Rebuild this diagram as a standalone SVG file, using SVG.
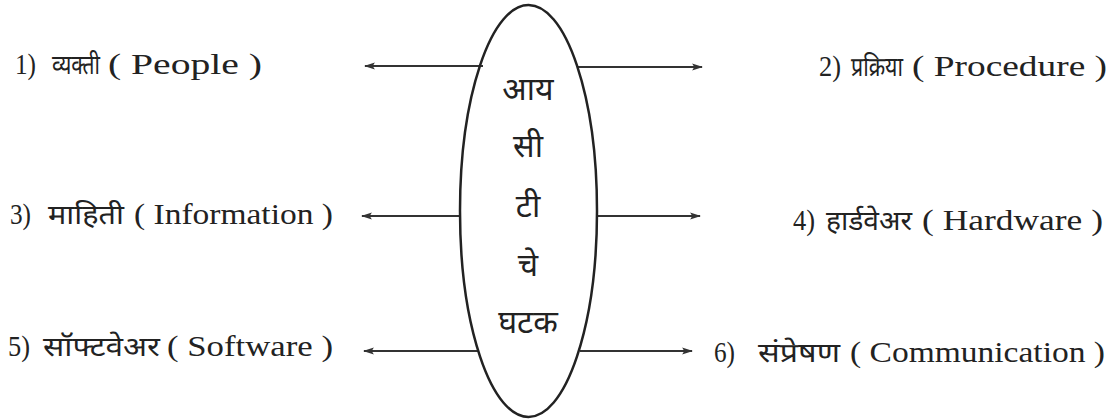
<svg xmlns="http://www.w3.org/2000/svg" width="1118" height="419" viewBox="0 0 1118 419">
<style>
text{font-family:"Liberation Serif","Noto Sans Devanagari","Noto Sans",serif;font-size:29px;fill:#222}
.dv{font-family:"Noto Sans Devanagari","Noto Sans","Liberation Serif",sans-serif;font-size:27px}
.ctr{font-family:"Noto Sans Devanagari","Noto Sans","Liberation Serif",sans-serif;font-size:32px;text-anchor:middle}
.ln{stroke:#333;stroke-width:2;fill:none}
</style>
<defs>
<marker id="ah" viewBox="0 0 10 10" refX="9" refY="5" markerWidth="11" markerHeight="9" orient="auto-start-reverse" markerUnits="userSpaceOnUse" preserveAspectRatio="none">
<path d="M0,1 L10,5 L0,9 L2,5 Z" fill="#333"/>
</marker>
</defs>
<rect width="1118" height="419" fill="#fff"/>
<g id="connectors">
<line class="ln" x1="483" y1="66" x2="365" y2="66" marker-end="url(#ah)"/>
<line class="ln" x1="578" y1="67" x2="702" y2="67" marker-end="url(#ah)"/>
<line class="ln" x1="460" y1="216" x2="362" y2="216" marker-end="url(#ah)"/>
<line class="ln" x1="597" y1="216" x2="700" y2="216" marker-end="url(#ah)"/>
<line class="ln" x1="478" y1="351" x2="364" y2="351" marker-end="url(#ah)"/>
<line class="ln" x1="580" y1="351" x2="692" y2="351" marker-end="url(#ah)"/>
</g>
<g id="center">
<ellipse cx="528.5" cy="211" rx="68.5" ry="206" fill="none" stroke="#222" stroke-width="2.5"/>
<text class="ctr" x="528" y="100">आय</text>
<text class="ctr" x="528" y="157">सी</text>
<text class="ctr" x="528" y="217">टी</text>
<text class="ctr" x="528" y="276">चे</text>
<text class="ctr" x="528" y="333">घटक</text>
</g>
<g id="n1">
<text x="15" y="74" textLength="21" lengthAdjust="spacingAndGlyphs">1)</text>
<text class="dv" x="52" y="74" textLength="48" lengthAdjust="spacingAndGlyphs">व्यक्ती</text>
<text x="108" y="74" textLength="154" lengthAdjust="spacingAndGlyphs">( People )</text>
</g>
<g id="n2">
<text x="819" y="76" textLength="22" lengthAdjust="spacingAndGlyphs">2)</text>
<text class="dv" x="851" y="76" textLength="52" lengthAdjust="spacingAndGlyphs">प्रक्रिया</text>
<text x="912" y="76" textLength="195" lengthAdjust="spacingAndGlyphs">( Procedure )</text>
</g>
<g id="n3">
<text x="10" y="224" textLength="21" lengthAdjust="spacingAndGlyphs">3)</text>
<text class="dv" x="48" y="224" textLength="76" lengthAdjust="spacingAndGlyphs">माहिती</text>
<text x="134" y="224" textLength="199" lengthAdjust="spacingAndGlyphs">( Information )</text>
</g>
<g id="n4">
<text x="793" y="230" textLength="22" lengthAdjust="spacingAndGlyphs">4)</text>
<text class="dv" x="826" y="230" textLength="86" lengthAdjust="spacingAndGlyphs">हार्डवेअर</text>
<text x="922" y="230" textLength="181" lengthAdjust="spacingAndGlyphs">( Hardware )</text>
</g>
<g id="n5">
<text x="8" y="356" textLength="22" lengthAdjust="spacingAndGlyphs">5)</text>
<text class="dv" x="43" y="356" textLength="117" lengthAdjust="spacingAndGlyphs">सॉफ्टवेअर</text>
<text x="167" y="356" textLength="166" lengthAdjust="spacingAndGlyphs">( Software )</text>
</g>
<g id="n6">
<text x="714" y="362" textLength="21" lengthAdjust="spacingAndGlyphs">6)</text>
<text class="dv" x="758" y="362" textLength="82" lengthAdjust="spacingAndGlyphs">संप्रेषण</text>
<text x="850" y="362" textLength="255" lengthAdjust="spacingAndGlyphs">( Communication )</text>
</g>
</svg>
